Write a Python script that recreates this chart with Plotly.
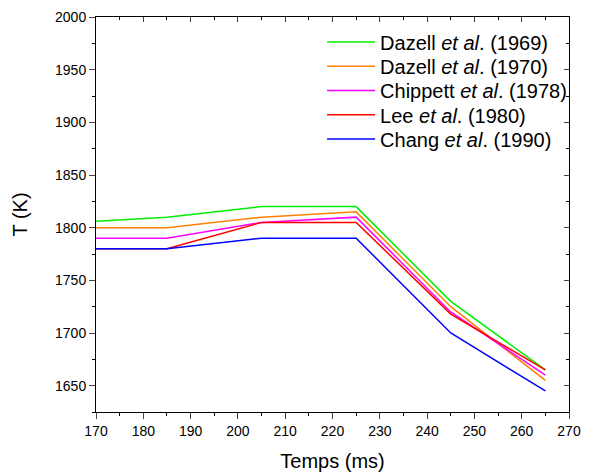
import plotly.graph_objects as go

time_ms = [170, 185, 205, 225, 245, 265]
dazell_1969 = [1806, 1810, 1820, 1820, 1730, 1665]
dazell_1970 = [1800, 1800, 1810, 1815, 1725, 1655]
chippett_1978 = [1790, 1790, 1805, 1810, 1720, 1660]
lee_1980 = [1780, 1780, 1805, 1805, 1718, 1665]
chang_1990 = [1780, 1780, 1790, 1790, 1700, 1645]

series = [
    ("Dazell <i>et al</i>. (1969)", dazell_1969, "#00f000"),
    ("Dazell <i>et al</i>. (1970)", dazell_1970, "#ff8000"),
    ("Chippett <i>et al</i>. (1978)", chippett_1978, "#ff00ff"),
    ("Lee <i>et al</i>. (1980)", lee_1980, "#ff0000"),
    ("Chang <i>et al</i>. (1990)", chang_1990, "#0000ff"),
]

font = "Liberation Sans, Arial, sans-serif"
xr = [170, 270]
yr = [1625, 2000]

fig = go.Figure()
legends = {}
for i, (name, vals, color) in enumerate(series):
    key = "legend" if i == 0 else f"legend{i + 1}"
    fig.add_trace(go.Scatter(x=time_ms, y=vals, mode="lines", name=name,
                             legend=key, line=dict(color=color, width=1.5)))
    legends[key] = dict(x=0.478, y=0.937 - i * 0.0615, xanchor="left", yanchor="middle",
                        bgcolor="rgba(0,0,0,0)", font=dict(size=20, family=font),
                        itemwidth=48)

# page body has an 8px margin, so margins are reduced by 8 on left/top
fig.update_layout(
    width=600, height=475,
    margin=dict(l=88, r=39, t=9, b=71),
    plot_bgcolor="white", paper_bgcolor="white",
    font=dict(family=font, size=14, color="black"),
    showlegend=True,
    **legends,
    xaxis=dict(range=xr, tickvals=list(range(170, 271, 10)), ticks="outside",
               ticklen=6, tickwidth=1, showline=True, linecolor="black", linewidth=1,
               showgrid=False, zeroline=False, automargin=False,
               minor=dict(ticks="outside", ticklen=3, dtick=5, tickcolor="black"),
               title=dict(text="Temps (ms)", font=dict(size=20), standoff=16)),
    yaxis=dict(range=yr, tickvals=list(range(1650, 2001, 50)), ticks="outside",
               ticklen=6, tickwidth=1, showline=True, linecolor="black", linewidth=1,
               showgrid=False, zeroline=False, automargin=False,
               minor=dict(ticks="outside", ticklen=3, dtick=25, tick0=1625, tickcolor="black"),
               title=dict(text="T (K)", font=dict(size=20), standoff=22)),
    xaxis2=dict(range=xr, overlaying="x", side="top", tickvals=list(range(170, 271, 10)),
                ticks="inside", ticklen=5, showticklabels=False, showline=True,
                linecolor="black", linewidth=1, showgrid=False, zeroline=False, automargin=False,
                minor=dict(ticks="inside", ticklen=3, dtick=5, tickcolor="black")),
    yaxis2=dict(range=yr, overlaying="y", side="right", tickvals=list(range(1650, 2001, 50)),
                ticks="inside", ticklen=5, showticklabels=False, showline=True,
                linecolor="black", linewidth=1, showgrid=False, zeroline=False, automargin=False,
                minor=dict(ticks="inside", ticklen=3, dtick=25, tick0=1625, tickcolor="black")),
)
fig.add_trace(go.Scatter(x=[None], y=[None], xaxis="x2", yaxis="y2",
                         showlegend=False, hoverinfo="skip"))

fig.write_html("out.html")
